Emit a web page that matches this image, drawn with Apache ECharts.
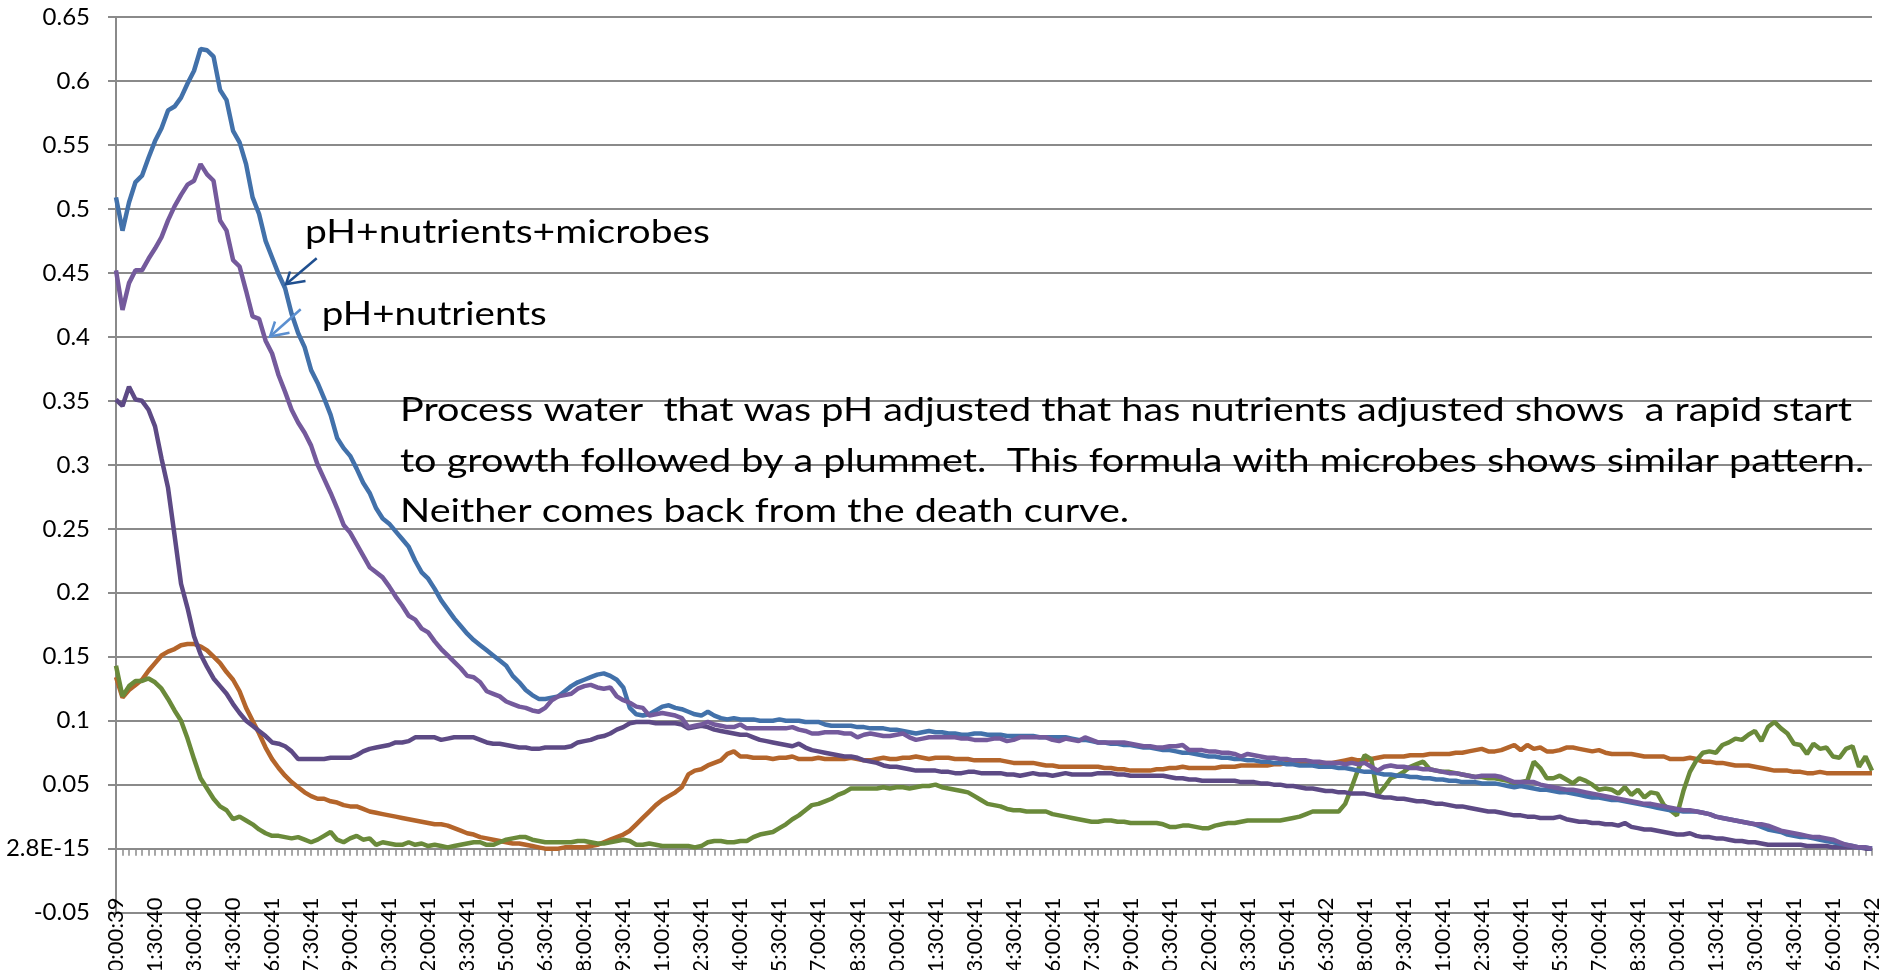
<!DOCTYPE html>
<html>
<head>
<meta charset="utf-8">
<style>
  html, body { margin: 0; padding: 0; background: #ffffff; }
  #chart { width: 1880px; height: 970px; }
</style>
<script src="https://cdn.jsdelivr.net/npm/echarts@6/dist/echarts.min.js"></script>
</head>
<body>
<div id="chart"></div>
<script>
// ---------- DATA ----------
const xTickLabels = ["0:00:39","1:30:40","3:00:40","4:30:40","6:00:41","7:30:41","9:00:41","10:30:41","12:00:41","13:30:41","15:00:41","16:30:41","18:00:41","19:30:41","21:00:41","22:30:41","24:00:41","25:30:41","27:00:41","28:30:41","30:00:41","31:30:41","33:00:41","34:30:41","36:00:41","37:30:41","39:00:41","40:30:41","42:00:41","43:30:41","45:00:41","46:30:42","48:00:41","49:30:41","51:00:41","52:30:41","54:00:41","55:30:41","57:00:41","58:30:41","60:00:41","61:30:41","63:00:41","64:30:41","66:00:41","67:30:42"];

const yTickLabels = ["-0.05","2.8E-15","0.05","0.1","0.15","0.2","0.25","0.3","0.35","0.4","0.45","0.5","0.55","0.6","0.65"];

// pH + nutrients + microbes (blue)
const phNutrientsMicrobes = [
0.509,0.483,0.505,0.521,0.526,0.540,0.553,0.563,0.577,0.580,
0.587,0.598,0.608,0.625,0.624,0.619,0.593,0.585,0.561,0.552,
0.535,0.509,0.496,0.475,0.462,0.449,0.438,0.418,0.403,0.392,
0.374,0.364,0.352,0.339,0.321,0.313,0.307,0.297,0.286,0.278,
0.266,0.258,0.254,0.248,0.242,0.236,0.225,0.216,0.211,0.203,
0.194,0.187,0.180,0.174,0.168,0.163,0.159,0.155,0.151,0.147,
0.143,0.135,0.130,0.124,0.120,0.117,0.117,0.118,0.119,0.123,
0.127,0.130,0.132,0.134,0.136,0.137,0.135,0.132,0.126,0.110,
0.105,0.104,0.105,0.108,0.111,0.112,0.110,0.109,0.107,0.105,
0.104,0.107,0.104,0.102,0.101,0.102,0.101,0.101,0.101,0.100,
0.100,0.100,0.101,0.100,0.100,0.100,0.099,0.099,0.099,0.097,
0.096,0.096,0.096,0.096,0.095,0.095,0.094,0.094,0.094,0.093,
0.093,0.092,0.091,0.090,0.091,0.092,0.091,0.091,0.090,0.090,
0.089,0.089,0.090,0.090,0.089,0.089,0.089,0.088,0.088,0.088,
0.088,0.088,0.087,0.087,0.087,0.087,0.087,0.086,0.085,0.085,
0.084,0.083,0.083,0.082,0.082,0.081,0.081,0.080,0.079,0.079,
0.078,0.077,0.077,0.076,0.075,0.075,0.074,0.073,0.072,0.072,
0.071,0.071,0.070,0.070,0.069,0.069,0.068,0.068,0.067,0.067,
0.066,0.066,0.065,0.065,0.065,0.064,0.064,0.064,0.063,0.063,
0.062,0.061,0.060,0.060,0.059,0.058,0.058,0.057,0.057,0.056,
0.056,0.055,0.055,0.054,0.054,0.053,0.053,0.052,0.052,0.052,
0.051,0.051,0.051,0.050,0.049,0.048,0.049,0.048,0.047,0.046,
0.046,0.045,0.044,0.044,0.043,0.042,0.041,0.040,0.040,0.039,
0.038,0.038,0.037,0.036,0.035,0.034,0.033,0.032,0.031,0.030,
0.030,0.029,0.029,0.029,0.028,0.027,0.025,0.024,0.023,0.022,
0.021,0.020,0.019,0.017,0.015,0.014,0.013,0.011,0.010,0.009,
0.009,0.008,0.007,0.006,0.005,0.004,0.003,0.002,0.001,0.001,
0.000];

// pH + nutrients (purple)
const phNutrients = [
0.452,0.421,0.442,0.452,0.452,0.461,0.469,0.478,0.491,0.502,
0.511,0.519,0.522,0.535,0.527,0.522,0.491,0.483,0.460,0.455,
0.436,0.416,0.414,0.397,0.387,0.370,0.357,0.343,0.333,0.325,
0.315,0.300,0.289,0.278,0.266,0.253,0.247,0.238,0.229,0.220,
0.216,0.212,0.205,0.197,0.190,0.182,0.179,0.172,0.169,0.162,
0.156,0.151,0.146,0.141,0.135,0.134,0.130,0.123,0.121,0.119,
0.115,0.113,0.111,0.110,0.108,0.107,0.110,0.116,0.119,0.120,
0.121,0.125,0.127,0.128,0.126,0.125,0.126,0.119,0.116,0.114,
0.111,0.110,0.104,0.105,0.106,0.105,0.104,0.102,0.095,0.096,
0.097,0.099,0.097,0.096,0.095,0.095,0.097,0.094,0.094,0.094,
0.094,0.094,0.094,0.094,0.095,0.093,0.092,0.090,0.090,0.091,
0.091,0.091,0.090,0.090,0.087,0.089,0.090,0.089,0.088,0.088,
0.089,0.090,0.087,0.085,0.086,0.087,0.087,0.087,0.087,0.087,
0.086,0.086,0.085,0.085,0.085,0.086,0.086,0.084,0.085,0.087,
0.087,0.087,0.087,0.087,0.085,0.084,0.086,0.085,0.084,0.087,
0.085,0.083,0.083,0.083,0.083,0.083,0.082,0.081,0.080,0.080,
0.079,0.079,0.080,0.080,0.081,0.077,0.077,0.077,0.076,0.076,
0.075,0.075,0.074,0.072,0.074,0.073,0.072,0.071,0.071,0.070,
0.070,0.069,0.069,0.069,0.068,0.068,0.067,0.067,0.067,0.066,
0.067,0.066,0.067,0.064,0.061,0.064,0.065,0.064,0.064,0.063,
0.063,0.062,0.062,0.061,0.060,0.059,0.059,0.058,0.057,0.056,
0.057,0.057,0.057,0.056,0.054,0.052,0.052,0.052,0.052,0.050,
0.049,0.048,0.047,0.046,0.046,0.045,0.044,0.043,0.042,0.041,
0.040,0.039,0.038,0.037,0.036,0.035,0.035,0.034,0.033,0.032,
0.031,0.030,0.030,0.029,0.028,0.027,0.025,0.024,0.023,0.022,
0.021,0.020,0.019,0.019,0.018,0.016,0.014,0.013,0.012,0.011,
0.010,0.009,0.009,0.008,0.007,0.005,0.003,0.002,0.001,0.001,
0.000];

// dark purple series
const seriesDarkPurple = [
0.351,0.346,0.361,0.351,0.350,0.343,0.330,0.305,0.282,0.245,
0.207,0.188,0.166,0.152,0.142,0.133,0.127,0.121,0.113,0.106,
0.100,0.096,0.092,0.088,0.083,0.082,0.080,0.076,0.070,0.070,
0.070,0.070,0.070,0.071,0.071,0.071,0.071,0.073,0.076,0.078,
0.079,0.080,0.081,0.083,0.083,0.084,0.087,0.087,0.087,0.087,
0.085,0.086,0.087,0.087,0.087,0.087,0.085,0.083,0.082,0.082,
0.081,0.080,0.079,0.079,0.078,0.078,0.079,0.079,0.079,0.079,
0.080,0.083,0.084,0.085,0.087,0.088,0.090,0.093,0.095,0.098,
0.099,0.099,0.099,0.098,0.098,0.098,0.098,0.097,0.094,0.095,
0.096,0.095,0.093,0.092,0.091,0.090,0.089,0.089,0.087,0.085,
0.084,0.083,0.082,0.081,0.080,0.082,0.079,0.077,0.076,0.075,
0.074,0.073,0.072,0.072,0.071,0.069,0.068,0.067,0.065,0.064,
0.064,0.063,0.062,0.061,0.061,0.061,0.061,0.060,0.060,0.059,
0.059,0.060,0.060,0.059,0.059,0.059,0.059,0.058,0.058,0.057,
0.058,0.059,0.058,0.058,0.057,0.058,0.059,0.058,0.058,0.058,
0.058,0.059,0.059,0.059,0.058,0.058,0.057,0.057,0.057,0.057,
0.057,0.057,0.056,0.055,0.055,0.054,0.054,0.053,0.053,0.053,
0.053,0.053,0.053,0.052,0.052,0.052,0.051,0.051,0.050,0.050,
0.049,0.049,0.048,0.047,0.047,0.046,0.045,0.045,0.044,0.044,
0.043,0.043,0.043,0.042,0.041,0.040,0.040,0.039,0.039,0.038,
0.037,0.037,0.036,0.035,0.035,0.034,0.033,0.033,0.032,0.031,
0.030,0.029,0.029,0.028,0.027,0.026,0.026,0.025,0.025,0.024,
0.024,0.024,0.025,0.023,0.022,0.021,0.021,0.020,0.020,0.019,
0.019,0.018,0.020,0.017,0.016,0.015,0.015,0.014,0.013,0.012,
0.011,0.011,0.012,0.010,0.009,0.009,0.008,0.008,0.007,0.006,
0.006,0.005,0.005,0.004,0.003,0.003,0.003,0.003,0.003,0.003,
0.002,0.002,0.002,0.002,0.001,0.001,0.001,0.001,0.001,0.000,
0.000];

// orange series
const seriesOrange = [
0.134,0.118,0.124,0.128,0.132,0.139,0.145,0.151,0.154,0.156,
0.159,0.160,0.160,0.158,0.155,0.150,0.145,0.138,0.132,0.123,
0.110,0.100,0.090,0.079,0.070,0.063,0.057,0.052,0.048,0.044,
0.041,0.039,0.039,0.037,0.036,0.034,0.033,0.033,0.031,0.029,
0.028,0.027,0.026,0.025,0.024,0.023,0.022,0.021,0.020,0.019,
0.019,0.018,0.016,0.014,0.012,0.011,0.009,0.008,0.007,0.006,
0.005,0.004,0.004,0.003,0.002,0.001,0.000,0.000,0.000,0.001,
0.001,0.001,0.001,0.002,0.003,0.005,0.007,0.009,0.011,0.014,
0.019,0.024,0.029,0.034,0.038,0.041,0.044,0.048,0.058,0.061,
0.062,0.065,0.067,0.069,0.074,0.076,0.072,0.072,0.071,0.071,
0.071,0.070,0.071,0.071,0.072,0.070,0.070,0.070,0.071,0.070,
0.070,0.070,0.070,0.071,0.070,0.069,0.069,0.070,0.071,0.070,
0.070,0.071,0.071,0.072,0.071,0.070,0.071,0.071,0.071,0.070,
0.070,0.070,0.069,0.069,0.069,0.069,0.069,0.068,0.067,0.067,
0.067,0.067,0.066,0.065,0.065,0.064,0.064,0.064,0.064,0.064,
0.064,0.064,0.063,0.063,0.062,0.062,0.061,0.061,0.061,0.061,
0.062,0.062,0.063,0.063,0.064,0.063,0.063,0.063,0.063,0.063,
0.064,0.064,0.064,0.065,0.065,0.065,0.065,0.065,0.066,0.066,
0.067,0.067,0.067,0.067,0.067,0.067,0.067,0.067,0.068,0.069,
0.070,0.069,0.069,0.070,0.071,0.072,0.072,0.072,0.072,0.073,
0.073,0.073,0.074,0.074,0.074,0.074,0.075,0.075,0.076,0.077,
0.078,0.076,0.076,0.077,0.079,0.081,0.077,0.081,0.078,0.079,
0.076,0.076,0.077,0.079,0.079,0.078,0.077,0.076,0.077,0.075,
0.074,0.074,0.074,0.074,0.073,0.072,0.072,0.072,0.072,0.070,
0.070,0.070,0.071,0.070,0.068,0.068,0.067,0.067,0.066,0.065,
0.065,0.065,0.064,0.063,0.062,0.061,0.061,0.061,0.060,0.060,
0.059,0.059,0.060,0.059,0.059,0.059,0.059,0.059,0.059,0.059,
0.059];

// green series
const seriesGreen = [
0.143,0.119,0.127,0.131,0.131,0.133,0.130,0.125,0.117,0.108,
0.100,0.086,0.070,0.055,0.047,0.039,0.033,0.030,0.023,0.025,
0.022,0.019,0.015,0.012,0.010,0.010,0.009,0.008,0.009,0.007,
0.005,0.007,0.010,0.013,0.007,0.005,0.008,0.010,0.007,0.008,
0.003,0.005,0.004,0.003,0.003,0.005,0.003,0.004,0.002,0.003,
0.002,0.001,0.002,0.003,0.004,0.005,0.005,0.003,0.003,0.005,
0.007,0.008,0.009,0.009,0.007,0.006,0.005,0.005,0.005,0.005,
0.005,0.006,0.006,0.005,0.004,0.004,0.005,0.006,0.007,0.006,
0.003,0.003,0.004,0.003,0.002,0.002,0.002,0.002,0.002,0.001,
0.002,0.005,0.006,0.006,0.005,0.005,0.006,0.006,0.009,0.011,
0.012,0.013,0.016,0.019,0.023,0.026,0.030,0.034,0.035,0.037,
0.039,0.042,0.044,0.047,0.047,0.047,0.047,0.047,0.048,0.047,
0.048,0.048,0.047,0.048,0.049,0.049,0.050,0.048,0.047,0.046,
0.045,0.044,0.041,0.038,0.035,0.034,0.033,0.031,0.030,0.030,
0.029,0.029,0.029,0.029,0.027,0.026,0.025,0.024,0.023,0.022,
0.021,0.021,0.022,0.022,0.021,0.021,0.020,0.020,0.020,0.020,
0.020,0.019,0.017,0.017,0.018,0.018,0.017,0.016,0.016,0.018,
0.019,0.020,0.020,0.021,0.022,0.022,0.022,0.022,0.022,0.022,
0.023,0.024,0.025,0.027,0.029,0.029,0.029,0.029,0.029,0.035,
0.048,0.062,0.073,0.070,0.042,0.048,0.055,0.057,0.060,0.064,
0.066,0.068,0.062,0.061,0.060,0.060,0.059,0.058,0.057,0.056,
0.056,0.055,0.055,0.054,0.053,0.051,0.052,0.053,0.068,0.063,
0.055,0.055,0.057,0.054,0.051,0.055,0.053,0.050,0.046,0.047,
0.046,0.043,0.048,0.042,0.046,0.040,0.044,0.043,0.034,0.030,
0.026,0.045,0.060,0.069,0.075,0.076,0.075,0.081,0.083,0.086,
0.085,0.089,0.092,0.084,0.095,0.099,0.094,0.090,0.082,0.081,
0.074,0.082,0.078,0.079,0.072,0.071,0.078,0.080,0.064,0.072,
0.061];

// ---------- BUILD ----------
const categories = [];
for (let i = 0; i < phNutrients.length; i++) {
  if (i % 6 === 0) { categories.push(xTickLabels[i / 6]); }
  else {
    const mins = i * 15;
    const h = Math.floor(mins / 60), m = mins % 60;
    categories.push(h + ':' + String(m).padStart(2, '0') + ':40');
  }
}

const FONT = 'Lato';
const chart = echarts.init(document.getElementById('chart'), null, { renderer: 'canvas' });

// text fit helper (style only)
const mctx = document.createElement('canvas').getContext('2d');
function fitScale(text, fs, targetW) {
  mctx.font = fs + 'px ' + FONT;
  return targetW / mctx.measureText(text).width;
}
const mainLines = [
  "Process water  that was pH adjusted that has nutrients adjusted shows  a rapid start",
  "to growth followed by a plummet.  This formula with microbes shows similar pattern.",
  "Neither comes back from the death curve."
];
const mainFs = 33;
const mainScale = fitScale(mainLines[0], mainFs, 1452);
const lab1 = "pH+nutrients+microbes", lab2 = "pH+nutrients";
const labFs = 33;
const lab1Scale = fitScale(lab1, labFs, 405);
const lab2Scale = fitScale(lab2, labFs, 225);
const mid = 0.36; // baseline -> middle offset factor

function textEl(str, x, baseline, fs, sx) {
  return {
    type: 'text', x: x, y: baseline - fs * mid, scaleX: sx, z: 100,
    style: { text: str, font: fs + 'px ' + FONT, fill: '#000000',
             textAlign: 'left', textVerticalAlign: 'middle', align: 'left', verticalAlign: 'middle' }
  };
}

const gridColor = '#8a8a8a';
const lineW = 4.5;

const option = {
  animation: false,
  backgroundColor: '#ffffff',
  grid: { left: 116, right: 8, top: 17, bottom: 57.4, containLabel: false, outerBoundsMode: 'none' },
  xAxis: {
    type: 'category',
    data: categories,
    boundaryGap: false,
    axisLine: { show: true, onZero: true, lineStyle: { color: gridColor, width: 2 } },
    axisTick: { show: true, interval: 0, length: 7, inside: false, lineStyle: { color: gridColor, width: 1.5 } },
    axisLabel: {
      interval: 5, rotate: 90, margin: -15, color: '#000000',
      fontFamily: FONT, fontSize: 22
    },
    splitLine: { show: false }
  },
  yAxis: {
    type: 'value',
    min: -0.05, max: 0.65, interval: 0.05,
    axisLine: { show: true, lineStyle: { color: gridColor, width: 2 } },
    axisTick: { show: true, length: 8, lineStyle: { color: gridColor, width: 2 } },
    axisLabel: {
      margin: 26, color: '#000000', fontFamily: FONT, fontSize: 24,
      formatter: function (v) {
        const idx = Math.round((v + 0.05) / 0.05);
        return yTickLabels[idx] !== undefined ? yTickLabels[idx] : '';
      }
    },
    splitLine: { show: true, lineStyle: { color: gridColor, width: 2 } }
  },
  series: [
    { name: 'orange', type: 'line', data: seriesOrange, showSymbol: false, symbol: 'none',
      lineStyle: { color: '#b4652b', width: lineW }, itemStyle: { color: '#b4652b' }, z: 2 },
    { name: 'green', type: 'line', data: seriesGreen, showSymbol: false, symbol: 'none',
      lineStyle: { color: '#6a8a3a', width: lineW }, itemStyle: { color: '#6a8a3a' }, z: 3 },
    { name: 'dark purple', type: 'line', data: seriesDarkPurple, showSymbol: false, symbol: 'none',
      lineStyle: { color: '#5d4a85', width: lineW }, itemStyle: { color: '#5d4a85' }, z: 4 },
    { name: 'pH+nutrients+microbes', type: 'line', data: phNutrientsMicrobes, showSymbol: false, symbol: 'none',
      lineStyle: { color: '#4271aa', width: lineW }, itemStyle: { color: '#4271aa' }, z: 5 },
    { name: 'pH+nutrients', type: 'line', data: phNutrients, showSymbol: false, symbol: 'none',
      lineStyle: { color: '#745a9c', width: lineW }, itemStyle: { color: '#745a9c' }, z: 6 }
  ],
  graphic: [
    textEl(mainLines[0], 400, 422, mainFs, mainScale),
    textEl(mainLines[1], 400, 473.5, mainFs, mainScale),
    textEl(mainLines[2], 400, 523.5, mainFs, mainScale),
    textEl(lab1, 305, 244.5, labFs, lab1Scale),
    textEl(lab2, 321.7, 326, labFs, lab2Scale),
    { type: 'line', z: 100, shape: { x1: 316.7, y1: 258.3, x2: 286, y2: 284.3 },
      style: { stroke: '#1f4f8f', lineWidth: 2.5 } },
    { type: 'polyline', z: 100, shape: { points: [[290, 271.5], [286, 284.3], [305.5, 281]] },
      style: { stroke: '#1f4f8f', lineWidth: 2.5, fill: null } },
    { type: 'line', z: 100, shape: { x1: 300.7, y1: 309.3, x2: 270, y2: 336.5 },
      style: { stroke: '#5b8fd0', lineWidth: 2.5 } },
    { type: 'polyline', z: 100, shape: { points: [[275, 321.5], [270, 336.5], [289.5, 332.7]] },
      style: { stroke: '#5b8fd0', lineWidth: 2.5, fill: null } }
  ]
};

chart.setOption(option);
</script>
</body>
</html>
